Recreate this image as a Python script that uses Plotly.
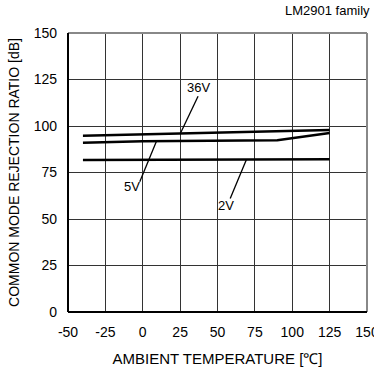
import plotly.graph_objects as go

# Data
temp_36v = [-40, 25, 100, 125]
cmrr_36v = [94.8, 95.9, 97.3, 97.9]
temp_5v = [-40, 0, 90, 125]
cmrr_5v = [91.0, 91.8, 92.4, 96.2]
temp_2v = [-40, 125]
cmrr_2v = [81.7, 82.1]

x_ticks = [-50, -25, 0, 25, 50, 75, 100, 125, 150]
y_ticks = [0, 25, 50, 75, 100, 125, 150]

# Labels: text, text position, leader start, leader end (data coords)
labels = ["36V", "5V", "2V"]
label_x = [37, -7, 56]
label_y = [120.5, 67.5, 57.5]
lead_x0 = [37, -2, 58.5]
lead_y0 = [116, 70, 61]
lead_x1 = [25.3, 9.1, 69.3]
lead_y1 = [96.2, 91.7, 81.8]

FONT = "Liberation Sans, Arial, sans-serif"

fig = go.Figure()
for xs, ys in [(temp_36v, cmrr_36v), (temp_5v, cmrr_5v), (temp_2v, cmrr_2v)]:
    fig.add_trace(go.Scatter(x=xs, y=ys, mode="lines",
                             line=dict(color="black", width=2.5),
                             showlegend=False, hoverinfo="skip"))

for t, tx, ty, x0, y0, x1, y1 in zip(labels, label_x, label_y, lead_x0, lead_y0, lead_x1, lead_y1):
    fig.add_shape(type="line", xref="x", yref="y", x0=x0, y0=y0, x1=x1, y1=y1,
                  line=dict(color="black", width=1.3))
    fig.add_annotation(x=tx, y=ty, xref="x", yref="y", text=t, showarrow=False,
                       font=dict(family=FONT, size=13, color="black"))

# frame
fig.add_shape(type="line", xref="paper", yref="paper", x0=0, y0=1, x1=1, y1=1,
              line=dict(color="#888888", width=2))
fig.add_shape(type="line", xref="paper", yref="paper", x0=1, y0=0, x1=1, y1=1,
              line=dict(color="#888888", width=2))
fig.add_shape(type="line", xref="paper", yref="paper", x0=0, y0=0, x1=0, y1=1,
              line=dict(color="black", width=2))
fig.add_shape(type="line", xref="paper", yref="paper", x0=0, y0=0, x1=1, y1=0,
              line=dict(color="black", width=2))

fig.add_annotation(x=1.0, y=1.0, xref="paper", yref="paper", xanchor="right", yanchor="bottom",
                   xshift=5, yshift=13, text="LM2901 family", showarrow=False,
                   font=dict(family=FONT, size=13, color="black"))

fig.update_xaxes(range=[-50, 150], tickvals=x_ticks, ticktext=[str(v) for v in x_ticks],
                 showgrid=True, gridcolor="#333333", gridwidth=1, zeroline=False,
                 showline=False, ticks="", ticklabelstandoff=10, ticklabeloverflow="allow",
                 automargin=False,
                 tickfont=dict(family=FONT, size=14, color="black"),
                 title=dict(text="AMBIENT TEMPERATURE [℃]", standoff=14,
                            font=dict(family=FONT, size=15, color="black")))
fig.update_yaxes(range=[0, 150], tickvals=y_ticks, ticktext=[str(v) for v in y_ticks],
                 showgrid=True, gridcolor="#333333", gridwidth=1, zeroline=False,
                 showline=False, ticks="", ticklabelstandoff=10, automargin=False,
                 tickfont=dict(family=FONT, size=14, color="black"),
                 title=dict(text="COMMON MODE REJECTION RATIO [dB]", standoff=10,
                            font=dict(family=FONT, size=14, color="black")))

fig.update_layout(width=374, height=374, margin=dict(l=68, r=7, t=33, b=62),
                  plot_bgcolor="white", paper_bgcolor="white",
                  font=dict(family=FONT, color="black"))

fig.write_html("out.html", config={"displayModeBar": False},
               post_script="document.body.style.margin='0';document.body.style.overflow='hidden';")
